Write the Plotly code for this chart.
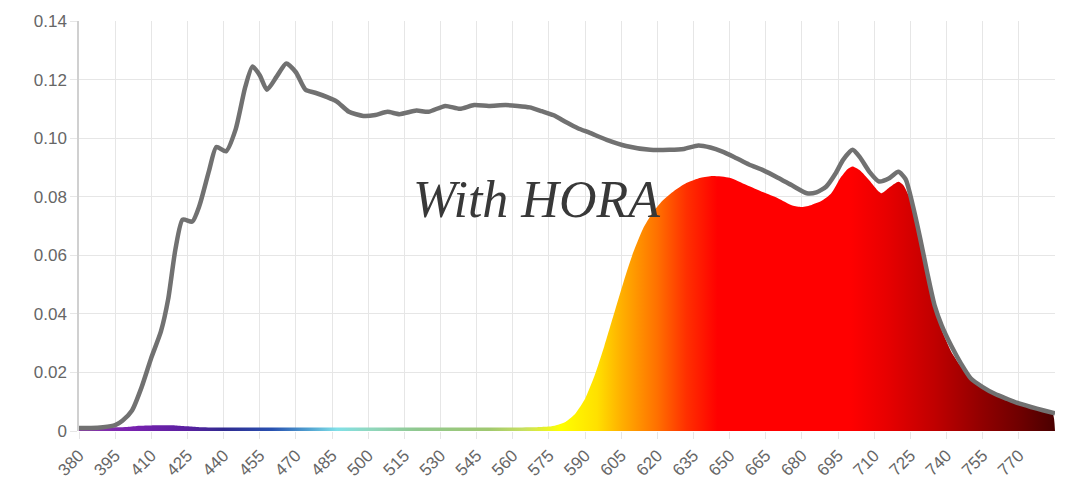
import plotly.graph_objects as go

# total spectrum (grey line)
wl_total = [380, 385, 390, 395, 398, 402, 406, 410, 414, 417, 420, 423, 427, 430, 434, 437,
            441, 445, 449, 452, 455, 458, 462, 466, 470, 474, 478, 483, 487, 492, 498, 503,
            508, 513, 520, 525, 532, 538, 544, 550, 557, 562, 567, 572, 577, 582, 587, 592,
            599, 607, 617, 625, 631, 637, 642, 647, 652, 658, 664, 670, 676, 682, 686, 690,
            694, 697, 701, 704, 708, 712, 716, 720, 723, 726, 729, 732, 735, 738, 742, 746,
            750, 755, 760, 765, 770, 775, 780, 785]
total = [0.0010, 0.0010, 0.0013, 0.0020, 0.0035, 0.0070, 0.0150, 0.0250, 0.0340, 0.0450,
         0.0620, 0.0722, 0.0715, 0.0770, 0.0890, 0.0970, 0.0955, 0.1030, 0.1175, 0.1245,
         0.1215, 0.1165, 0.1210, 0.1255, 0.1225, 0.1165, 0.1155, 0.1140, 0.1125, 0.1090,
         0.1076, 0.1079, 0.1090, 0.1082, 0.1094, 0.1090, 0.1110, 0.1100, 0.1113, 0.1110,
         0.1113, 0.1110, 0.1105, 0.1092, 0.1078, 0.1055, 0.1034, 0.1018, 0.0994, 0.0973,
         0.0960, 0.0960, 0.0963, 0.0975, 0.0968, 0.0954, 0.0935, 0.0910, 0.0890, 0.0865,
         0.0838, 0.0812, 0.0815, 0.0834, 0.0880, 0.0925, 0.0960, 0.0935, 0.0885, 0.0852,
         0.0862, 0.0885, 0.0860, 0.0770, 0.0660, 0.0540, 0.0430, 0.0360, 0.0290, 0.0230,
         0.0180, 0.0150, 0.0127, 0.0110, 0.0094, 0.0082, 0.0071, 0.0060]

# HORA spectrum (colour filled)
wl_hora = [380, 390, 400, 405, 410, 420, 425, 430, 450, 480, 510, 540, 570, 575, 578, 582,
           586, 590, 594, 598, 602, 606, 610, 614, 618, 622, 627, 632, 638, 643, 650, 657,
           664, 670, 676, 680, 684, 688, 692, 696, 699, 701, 704, 708, 711, 713, 716, 720,
           722, 725, 728, 731, 734, 738, 742, 746, 750, 755, 760, 765, 770, 775, 780, 784, 785]
hora = [0.0012, 0.0012, 0.0014, 0.0018, 0.0019, 0.0019, 0.0016, 0.0013, 0.0012, 0.0012,
        0.0012, 0.0012, 0.0013, 0.0015, 0.0020, 0.0032, 0.0060, 0.0110, 0.0190, 0.0290,
        0.0400, 0.0510, 0.0610, 0.0690, 0.0745, 0.0785, 0.0820, 0.0847, 0.0865, 0.0871,
        0.0865, 0.0840, 0.0815, 0.0795, 0.0770, 0.0765, 0.0772, 0.0785, 0.0810, 0.0865,
        0.0895, 0.0903, 0.0890, 0.0855, 0.0825, 0.0812, 0.0830, 0.0851, 0.0840, 0.0790,
        0.0690, 0.0560, 0.0450, 0.0345, 0.0270, 0.0220, 0.0180, 0.0151, 0.0128, 0.0110,
        0.0095, 0.0083, 0.0071, 0.0061, 0.0]

x_ticks = list(range(380, 771, 15))
y_ticks = [0, 0.02, 0.04, 0.06, 0.08, 0.10, 0.12, 0.14]
y_labels = ["0", "0.02", "0.04", "0.06", "0.08", "0.10", "0.12", "0.14"]

# wavelength -> colour stops for the gradient fill
spec_wl = [380, 400, 425, 440, 460, 475, 487, 500, 520, 550, 565, 580, 595, 605, 620,
           632, 645, 700, 715, 735, 755, 770, 785]
spec_col = ["#8a3aa8", "#7a22b0", "#5a20a0", "#302a90", "#2850b0", "#50a0d0", "#80e0e8",
            "#90d8c0", "#90c890", "#a0c870", "#c8e060", "#ffff00", "#ffe000", "#ffb000",
            "#ff7000", "#ff3000", "#ff0000", "#ff0000", "#e80000", "#c00000", "#900000",
            "#700000", "#4a0000"]
lo, hi = spec_wl[0], spec_wl[-1]
colorscale = [[(w - lo) / (hi - lo), c] for w, c in zip(spec_wl, spec_col)]

fig = go.Figure()
fig.add_trace(go.Scatter(
    x=wl_hora, y=hora, mode="lines", line=dict(width=0, shape="spline", smoothing=0.6),
    fill="tozeroy",
    fillgradient=dict(type="horizontal", colorscale=colorscale, start=lo, stop=hi),
    hoverinfo="skip", showlegend=False,
))
fig.add_trace(go.Scatter(
    x=wl_total, y=total, mode="lines",
    line=dict(color="#717171", width=4.5, shape="spline", smoothing=0.6),
    showlegend=False,
))

fig.add_annotation(
    x=570, y=0.0792, xref="x", yref="y", text="<i>With HORA</i>", showarrow=False,
    font=dict(family="Liberation Serif", size=52, color="#383838"),
)

fig.update_layout(
    width=1080, height=480,
    margin=dict(l=79, r=25, t=21, b=49),
    paper_bgcolor="white", plot_bgcolor="white",
    font=dict(family="Liberation Sans, Arial", color="#666666", size=17),
)
fig.update_xaxes(
    range=[380, 785], tickvals=x_ticks, tickangle=-45, automargin=False,
    showgrid=True, gridcolor="#e6e6e6", gridwidth=1, zeroline=False,
    ticks="outside", ticklen=7, tickcolor="#e6e6e6",
    showline=False, tickfont=dict(size=17, color="#666666"),
)
fig.update_yaxes(
    range=[0, 0.14], tickvals=y_ticks, ticktext=y_labels, automargin=False,
    showgrid=True, gridcolor="#e6e6e6", gridwidth=1, zeroline=False,
    ticks="outside", ticklen=7, tickcolor="#e6e6e6",
    showline=True, linecolor="#d0d0d0", linewidth=1.5,
    tickfont=dict(size=17, color="#666666"),
)

# drop the default 8px page margin so the figure fills the window exactly
fig.write_html("out.html", config={"displayModeBar": False},
               post_script="document.body.style.margin='0';")
